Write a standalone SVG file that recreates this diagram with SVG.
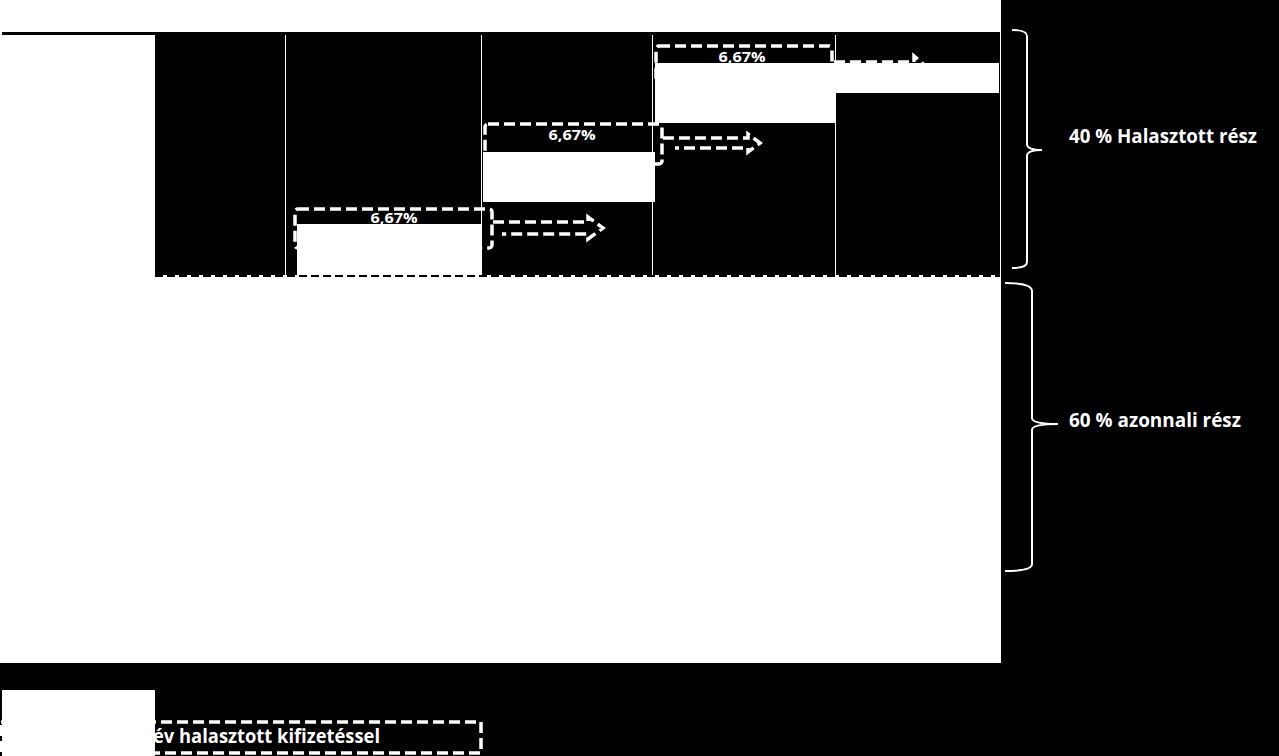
<svg xmlns="http://www.w3.org/2000/svg" width="1279" height="756" viewBox="0 0 1279 756">
<style>
.lbl{font-family:"Open Sans","Liberation Sans",sans-serif;font-weight:bold;fill:#fff}
.dash{fill:none;stroke:#fff;stroke-width:3.5;stroke-dasharray:11 5}
.div{stroke:#fff;stroke-width:1}
.brace{fill:none;stroke:#fff;stroke-width:2}
.bar{fill:#fff}
</style>
<rect x="0" y="0" width="1279" height="756" fill="#000"/>
<g id="page">
<rect x="0" y="0" width="1001" height="663" fill="#fff"/>
<rect x="2" y="32" width="998" height="3" fill="#000"/>
<rect x="155" y="35" width="845" height="240" fill="#000"/>
<line x1="155" y1="276" x2="1000" y2="276" stroke="#000" stroke-width="2" stroke-dasharray="8 4"/>
</g>
<g id="dividers">
<line class="div" x1="285.5" y1="35" x2="285.5" y2="275"/>
<line class="div" x1="481.5" y1="35" x2="481.5" y2="275"/>
<line class="div" x1="652.5" y1="35" x2="652.5" y2="275"/>
<line class="div" x1="835.5" y1="35" x2="835.5" y2="275"/>
</g>
<g id="connectors">
<path class="dash" d="M493,222 H588 V217 L603,228 L588,239 V234 H502"/>
<path class="dash" d="M663,138 H748 V134 L760,143 L748,152 V148 H675"/>
<path class="dash" d="M834,62 H914 V56 L928,68 L914,80 V74 H845"/>
</g>
<g id="box1">
<rect class="dash" x="295" y="209" width="197" height="39" rx="3"/>
<text class="lbl" x="394" y="223" font-size="15" text-anchor="middle" textLength="47" lengthAdjust="spacingAndGlyphs">6,67%</text>
<rect class="bar" x="297" y="224" width="184" height="51"/>
</g>
<g id="box2">
<rect class="dash" x="485" y="124" width="177" height="40" rx="3"/>
<text class="lbl" x="572" y="140" font-size="15" text-anchor="middle" textLength="47" lengthAdjust="spacingAndGlyphs">6,67%</text>
<rect class="bar" x="483" y="152" width="172" height="50"/>
</g>
<g id="box3">
<rect class="dash" x="656" y="46" width="176" height="36" rx="3"/>
<text class="lbl" x="742" y="62" font-size="15" text-anchor="middle" textLength="47" lengthAdjust="spacingAndGlyphs">6,67%</text>
<rect class="bar" x="655" y="63" width="180" height="60"/>
</g>
<g id="bar4">
<rect class="bar" x="836" y="63" width="163" height="30"/>
</g>
<g id="brace-deferred">
<path class="brace" d="M1012,30 Q1027,30 1027,36 V144 Q1027,150 1042,150 Q1027,150 1027,156 V262 Q1027,268 1012,268"/>
<text class="lbl" x="1069" y="143" font-size="19" textLength="188" lengthAdjust="spacingAndGlyphs">40 % Halasztott rész</text>
</g>
<g id="brace-immediate">
<path class="brace" d="M1005,283 Q1032,283 1032,291 V418 Q1032,424 1058,424 Q1032,424 1032,430 V564 Q1032,571 1005,571"/>
<text class="lbl" x="1069" y="427" font-size="19" textLength="172" lengthAdjust="spacingAndGlyphs">60 % azonnali rész</text>
</g>
<g id="legend">
<rect class="dash" x="1" y="722" width="480" height="31"/>
<text class="lbl" x="153" y="743" font-size="19" textLength="227" lengthAdjust="spacingAndGlyphs">év halasztott kifizetéssel</text>
<rect x="2" y="690" width="153" height="66" fill="#fff"/>
</g>
</svg>
